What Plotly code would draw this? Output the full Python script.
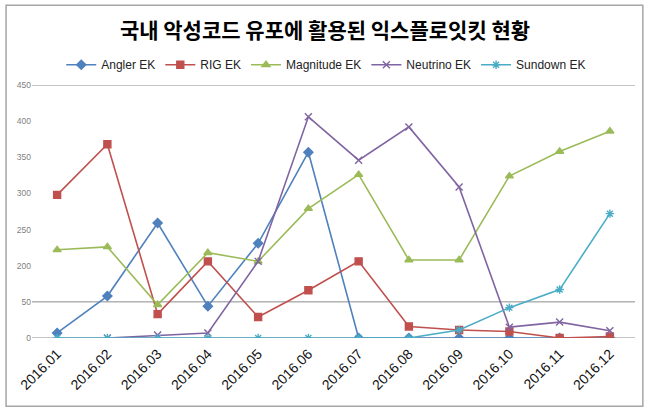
import plotly.graph_objects as go

months = ["2016.01", "2016.02", "2016.03", "2016.04", "2016.05", "2016.06",
          "2016.07", "2016.08", "2016.09", "2016.10", "2016.11", "2016.12"]

angler = [7, 58, 159, 44, 131, 257, 0, 0, 0, 0, 0, 0]
rig = [198, 268, 33, 106, 29, 66, 106, 16, 11, 9, 0, 2]
magnitude = [122, 126, 46, 118, 106, 179, 226, 108, 108, 224, 258, 286]
neutrino = [None, 0, 4, 7, 106, 306, 246, 292, 209, 15, 22, 10]
sundown = [0, 0, 0, 0, 0, 0, 0, 0, 11, 42, 67, 172]

tick_vals = [0, 50, 100, 150, 200, 250, 300, 350]
tick_text = ["0", "50", "200", "250", "300", "350", "400", "450"]
grid_values = [0, 50, 350]

series = [
    ("Angler EK", angler, "#4F81BD", "diamond"),
    ("RIG EK", rig, "#C0504D", "square"),
    ("Magnitude EK", magnitude, "#9BBB59", "triangle-up"),
    ("Neutrino EK", neutrino, "#8064A2", "x-thin-open"),
    ("Sundown EK", sundown, "#4BACC6", "asterisk-open"),
]

fig = go.Figure()
for name, vals, color, sym in series:
    fig.add_trace(go.Scatter(
        x=months, y=vals, name=name, mode="lines+markers",
        line=dict(color=color, width=1.6),
        marker=dict(symbol=sym, size=7, color=color,
                    line=dict(color=color, width=1.4)),
    ))

shapes = [dict(type="line", xref="paper", yref="y", x0=0, x1=1, y0=g, y1=g,
               line=dict(color="#8c8c8c", width=1), layer="below")
          for g in grid_values]
shapes.append(dict(type="rect", xref="paper", yref="paper",
                   x0=-0.043, x1=1.013, y0=-0.27, y1=1.315,
                   line=dict(color="#a6a6a6", width=1.5), layer="below"))

fig.update_layout(
    width=650, height=413,
    margin=dict(l=32, r=15, t=85, b=75),
    paper_bgcolor="white", plot_bgcolor="white",
    title=dict(text="국내 악성코드 유포에 활용된 익스플로잇킷 현황",
               x=0.5, xanchor="center", y=0.926, yanchor="middle",
               font=dict(family="Noto Sans CJK KR", size=21, color="#000000",
                         weight="bold")),
    legend=dict(orientation="h", x=0.488, xanchor="center", y=1.08,
                yanchor="middle", font=dict(family="Liberation Sans", size=12,
                                            color="#222222"),
                itemwidth=30, tracegroupgap=0, bgcolor="rgba(0,0,0,0)"),
    xaxis=dict(type="category", showgrid=False, showline=False, ticks="",
               tickangle=-45, ticklabelstandoff=4,
               tickfont=dict(family="Liberation Sans", size=14,
                             color="#111111"),
               range=[-0.5, 11.5]),
    yaxis=dict(range=[0, 350], tickvals=tick_vals, ticktext=tick_text,
               showgrid=False, zeroline=False, showline=False,
               tickfont=dict(family="Liberation Sans", size=8.5, color="#7f7f7f")),
    shapes=shapes,
    showlegend=True,
)

fig.write_html("out.html")
